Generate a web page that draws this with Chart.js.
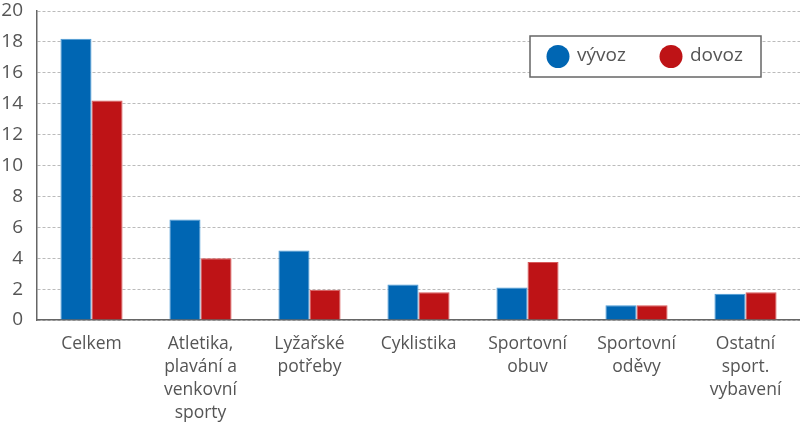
<!DOCTYPE html>
<html>
<head>
<meta charset="utf-8">
<script src="https://cdn.jsdelivr.net/npm/chart.js@4"></script>
<style>
  html, body { margin: 0; padding: 0; background: #fff; }
  #wrap { width: 800px; height: 426px; position: relative; }
</style>
</head>
<body>
<div id="wrap"><canvas id="chart"></canvas></div>
<script>
const categories = [
  "Celkem",
  ["Atletika,", "plavání a", "venkovní", "sporty"],
  ["Lyžařské", "potřeby"],
  "Cyklistika",
  ["Sportovní", "obuv"],
  ["Sportovní", "oděvy"],
  ["Ostatní", "sport.", "vybavení"]
];
const vyvoz = [18.2, 6.5, 4.5, 2.3, 2.1, 0.95, 1.7];
const dovoz = [14.2, 4.0, 1.95, 1.8, 3.75, 0.95, 1.8];
const seriesNames = ["vývoz", "dovoz"];
const seriesColors = ["#0066b3", "#be1316"];
const yTicks = [0, 2, 4, 6, 8, 10, 12, 14, 16, 18, 20];

const FONT = "'Open Sans', sans-serif";
const TEXT = "#555";

// legend drawn in a box inside the plot
const boxLegend = {
  id: "boxLegend",
  afterDraw(chart) {
    const ctx = chart.ctx;
    const x = 530, y = 36, w = 231, h = 41;
    ctx.save();
    ctx.fillStyle = "#fff";
    ctx.fillRect(x, y, w, h);
    ctx.strokeStyle = "#666";
    ctx.lineWidth = 1.5;
    ctx.strokeRect(x, y, w, h);
    ctx.font = "19px " + FONT;
    ctx.textBaseline = "middle";
    const items = [{ cx: 558, tx: 577 }, { cx: 671, tx: 690 }];
    chart.data.datasets.forEach((ds, i) => {
      ctx.beginPath();
      ctx.arc(items[i].cx, y + h / 2, 11.5, 0, Math.PI * 2);
      ctx.fillStyle = ds.backgroundColor;
      ctx.fill();
      ctx.fillStyle = TEXT;
      ctx.fillText(ds.label, items[i].tx, y + h / 2 - 1);
    });
    ctx.restore();
  }
};

new Chart(document.getElementById("chart"), {
  type: "bar",
  data: {
    labels: categories,
    datasets: [
      { label: seriesNames[0], data: vyvoz, backgroundColor: seriesColors[0], borderColor: "#4a9ad6", borderWidth: 1 },
      { label: seriesNames[1], data: dovoz, backgroundColor: seriesColors[1], borderColor: "#d85a5a", borderWidth: 1 }
    ]
  },
  options: {
    responsive: true,
    maintainAspectRatio: false,
    animation: false,
    layout: { padding: { top: 11, right: 0, left: 0, bottom: 0 } },
    categoryPercentage: 0.57,
    barPercentage: 1.0,
    plugins: {
      legend: { display: false },
      tooltip: { enabled: false }
    },
    scales: {
      x: {
        grid: { display: false, drawTicks: false },
        border: { color: "#666", width: 1.5 },
        ticks: {
          color: TEXT,
          font: { family: FONT, size: 17.5, lineHeight: 1.3 },
          padding: 13,
          maxRotation: 0,
          autoSkip: false
        },
        afterFit(scale) { scale.height = 106; scale.paddingLeft = 0; scale.paddingRight = 0; }
      },
      y: {
        min: 0,
        max: 20,
        afterBuildTicks(scale) { scale.ticks = yTicks.map(v => ({ value: v })); },
        grid: {
          color: "#bbb",
          drawTicks: false
        },
        border: { color: "#666", width: 1.5, dash: [3, 2] },
        ticks: {
          color: TEXT,
          font: { family: FONT, size: 19 },
          padding: 14
        },
        afterFit(scale) { scale.width = 37; scale.paddingTop = 0; scale.paddingBottom = 0; }
      }
    }
  },
  plugins: [boxLegend]
});
</script>
</body>
</html>
